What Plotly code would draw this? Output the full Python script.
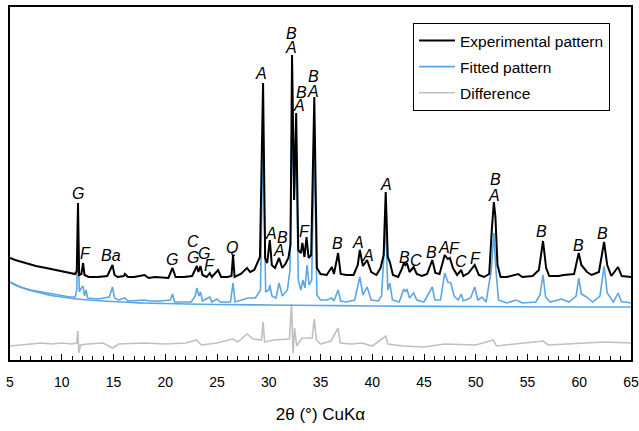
import plotly.graph_objects as go

# ---------------- data (intensity, arbitrary units) ----------------
exp_2theta = [5.0, 5.5, 6.5, 7.5, 8.5, 9.5, 10.5, 11.3, 11.45, 11.57, 11.68, 11.9, 12.06, 12.2, 12.6,
              13.5, 14.4, 14.75, 14.9, 15.1, 15.4, 16.0, 16.1, 16.4, 17.0, 18.0, 18.4, 19.0, 20.3,
              20.7, 21.0, 21.8, 22.6, 23.05, 23.2, 23.4, 23.6, 24.0, 24.3, 24.5, 25.1, 25.4, 26.0,
              26.4, 26.55, 26.7, 27.3, 27.9, 28.2, 28.6, 29.15, 29.45, 29.65, 29.85, 30.1, 30.3,
              30.6, 31.0, 31.3, 31.6, 31.9, 32.1, 32.25, 32.45, 32.65, 32.85, 33.1, 33.25, 33.45,
              33.65, 33.85, 34.1, 34.4, 34.65, 35.0, 35.6, 36.1, 36.3, 36.7, 36.95, 37.5, 38.2,
              38.6, 38.8, 39.1, 39.5, 39.9, 40.4, 40.8, 41.1, 41.3, 41.5, 41.7, 42.0, 42.5, 42.9,
              43.05, 43.2, 43.35, 43.6, 44.0, 44.3, 44.8, 45.3, 45.8, 46.1, 46.5, 47.0, 47.3, 47.5,
              47.8, 48.2, 48.6, 48.8, 49.3, 49.9, 50.3, 50.8, 51.3, 51.55, 51.75, 51.9, 52.1, 52.4,
              53.0, 54.1, 54.5, 55.5, 56.1, 56.5, 56.8, 57.1, 58.0, 58.5, 59.5, 59.95, 60.2, 60.75,
              61.2, 61.9, 62.4, 62.7, 63.1, 63.75, 64.1, 65.0]
exp_counts = [100, 98, 95, 92, 90, 88, 86, 84, 87, 155, 83, 84, 95, 83, 81,
              81, 82, 90, 93, 83, 81, 82, 84, 81, 81, 83, 80, 81, 80,
              90, 81, 81, 82, 92, 86, 92, 83, 81, 85, 81, 88, 81, 81,
              82, 103, 81, 84, 90, 86, 88, 101, 275, 100, 95, 118, 93,
              90, 100, 90, 94, 100, 113, 303, 158, 245, 108, 105, 115, 101,
              121, 100, 103, 261, 90, 84, 83, 91, 84, 105, 84, 83, 83,
              93, 108, 92, 98, 86, 83, 90, 103, 166, 101, 96, 83, 81, 90,
              95, 93, 95, 86, 91, 84, 82, 84, 98, 85, 84, 103, 99, 100,
              90, 83, 88, 82, 85, 93, 83, 81, 84, 128, 156, 141, 93, 81,
              81, 84, 81, 82, 88, 117, 90, 82, 82, 83, 84, 105, 93, 86,
              83, 86, 116, 93, 82, 91, 82, 81]

fit_2theta = [5.0, 6.0, 7.0, 8.0, 9.0, 10.0, 10.8, 11.3, 11.45, 11.57, 11.7, 11.9, 12.06, 12.2, 12.35,
              12.5, 13.5, 14.6, 14.9, 15.1, 15.5, 16.1, 16.4, 18.0, 18.5, 19.5, 20.5, 20.7, 20.9,
              22.5, 22.9, 23.05, 23.25, 23.4, 23.6, 24.3, 24.5, 25.0, 25.3, 26.3, 26.55, 26.75,
              27.3, 28.0, 28.7, 29.2, 29.45, 29.7, 30.0, 30.1, 30.3, 30.7, 31.0, 31.3, 31.8, 32.05,
              32.25, 32.45, 32.65, 32.85, 33.1, 33.3, 33.5, 33.7, 33.9, 34.15, 34.4, 34.65, 35.0,
              35.6, 36.1, 36.3, 36.7, 36.95, 37.5, 38.3, 38.8, 39.1, 39.5, 39.9, 40.6, 40.9, 41.3,
              41.5, 41.7, 41.95, 42.6, 43.05, 43.2, 43.35, 43.6, 44.0, 44.3, 45.0, 45.8, 46.05,
              46.6, 47.0, 47.3, 47.6, 47.9, 48.3, 48.6, 48.8, 49.5, 49.9, 50.2, 50.6, 51.0, 51.5,
              51.75, 51.95, 52.2, 53.0, 53.9, 54.5, 55.8, 56.2, 56.5, 56.75, 57.2, 58.3, 59.0,
              59.7, 59.95, 60.2, 60.7, 61.3, 62.0, 62.4, 62.7, 63.3, 63.75, 64.1, 64.5, 65.0]
fit_counts = [76, 71, 68, 66, 64, 62, 61, 61, 68, 121, 66, 70, 72, 62, 68,
              60, 59, 61, 71, 60, 58, 60, 57, 58, 57, 57, 58, 64, 56,
              56, 62, 70, 62, 66, 57, 61, 56, 59, 56, 56, 75, 56,
              58, 60, 60, 68, 228, 66, 68, 73, 62, 60, 75, 62, 68, 88,
              241, 158, 215, 78, 68, 78, 70, 93, 73, 78, 213, 63, 58,
              58, 60, 57, 68, 57, 56, 58, 81, 63, 71, 58, 57, 62, 135,
              68, 75, 58, 56, 69, 66, 69, 60, 65, 58, 56, 71, 58,
              58, 85, 76, 75, 62, 58, 64, 57, 60, 71, 58, 61, 56, 88,
              125, 88, 58, 55, 58, 55, 56, 63, 83, 61, 56, 59, 56,
              62, 80, 64, 61, 56, 62, 92, 65, 56, 65, 56, 56, 55]

bg_2theta = [5, 5.5, 6, 7, 8, 9, 10, 11, 12, 14, 16, 18, 20, 25, 30, 35, 40, 50, 60, 65]
bg_counts = [76, 73, 71, 67.5, 65, 62.5, 61, 59.5, 58.5, 57, 56, 55, 54.5, 53.5, 53, 52.5, 52, 51.5, 51, 51]

diff_2theta = [5.0, 6.0, 7.0, 8.0, 9.0, 10.0, 11.0, 11.45, 11.55, 11.65, 11.8, 12.5, 14.0, 14.9, 15.5,
               18.0, 20.0, 22.0, 23.0, 23.5, 25.0, 26.5, 27.0, 27.9, 28.5, 29.3, 29.45, 29.6, 30.5,
               31.5, 32.0, 32.2, 32.35, 32.5, 32.7, 33.2, 34.2, 34.4, 34.6, 35.0, 36.0, 36.7, 36.9,
               38.0, 39.0, 40.0, 41.3, 41.5, 43.0, 45.0, 47.0, 50.0, 51.7, 52.0, 54.0, 56.5, 57.0,
               60.0, 62.4, 65.0]
diff_counts = [12, 13, 14, 15, 14, 15, 14, 15, 27, 5, 13, 14, 15, 10, 14,
               15, 14, 15, 18, 13, 15, 19, 16, 24, 19, 18, 36, 16, 18,
               19, 19, 54, 5, 30, 12, 20, 20, 39, 18, 14, 17, 30, 15,
               14, 15, 12, 22, 14, 12, 11, 14, 13, 18, 12, 14, 17, 13,
               15, 16, 15]

# phase labels: text, 2theta position, height
label_text = ["G", "F", "Ba", "G", "C", "G", "G", "F", "Q", "A", "A", "B", "A", "B", "A", "B", "A",
              "F", "B", "A", "B", "A", "A", "A", "B", "C", "B", "A", "F", "C", "F", "B", "A",
              "B", "B", "B"]
label_2theta = [11.57, 12.25, 14.76, 20.65, 22.68, 22.68, 23.74, 24.32, 26.45, 29.25, 30.22, 31.28,
                31.0, 32.15, 32.15, 33.12, 32.92, 33.5, 34.37, 34.28, 36.69, 38.62, 39.59, 41.33,
                43.07, 44.23, 45.68, 46.93, 47.9, 48.57, 50.02, 51.86, 51.76, 56.4, 59.88, 62.29]
label_height = [165, 105, 103, 99, 117, 101, 105, 93, 111, 285, 125, 121, 108, 325, 311, 266, 253,
                127, 282, 267, 115, 116, 103, 174, 101, 98, 106, 111, 110, 97, 100, 179, 163,
                127, 113, 125]

x_ticks = [5, 10, 15, 20, 25, 30, 35, 40, 45, 50, 55, 60, 65]

BLACK = "#000000"
BLUE = "#5aa6e6"
GRAY = "#c0c0c0"
FONT = "Liberation Sans, Arial, Helvetica, sans-serif"

fig = go.Figure()
fig.add_trace(go.Scatter(x=diff_2theta, y=diff_counts, mode="lines", name="Difference",
                         line=dict(color=GRAY, width=1.6), legendgroup="c", legendrank=3))
fig.add_trace(go.Scatter(x=bg_2theta, y=bg_counts, mode="lines", name="Background",
                         line=dict(color=BLUE, width=1.6, shape="spline"), showlegend=False,
                         legendgroup="b"))
fig.add_trace(go.Scatter(x=fit_2theta, y=fit_counts, mode="lines", name="Fitted pattern",
                         line=dict(color=BLUE, width=1.6), legendgroup="b", legendrank=2))
fig.add_trace(go.Scatter(x=exp_2theta, y=exp_counts, mode="lines", name="Experimental pattern",
                         line=dict(color=BLACK, width=2), legendgroup="a", legendrank=1))

for t, xv, yv in zip(label_text, label_2theta, label_height):
    fig.add_annotation(x=xv, y=yv, xref="x", yref="y", text="<i>" + t + "</i>",
                       showarrow=False, font=dict(family=FONT, size=16, color=BLACK))

fig.update_layout(
    width=639, height=431,
    margin=dict(l=10, r=8, t=7, b=71, autoexpand=False),
    paper_bgcolor="white", plot_bgcolor="white",
    font=dict(family=FONT, color=BLACK),
    legend=dict(x=0.649, y=0.955, xanchor="left", yanchor="top",
                bordercolor=BLACK, borderwidth=1, bgcolor="white",
                font=dict(family=FONT, size=15.5, color=BLACK),
                tracegroupgap=3, traceorder="grouped", itemwidth=36),
    xaxis=dict(range=[5, 65], tickvals=x_ticks, ticks="inside", ticklen=6, tickwidth=1,
               tickcolor=BLACK, showline=True, mirror=True, linecolor=BLACK, linewidth=1.5,
               showgrid=False, zeroline=False, ticklabelstandoff=8, automargin=False,
               tickfont=dict(family=FONT, size=14, color=BLACK),
               minor=dict(dtick=1, ticks="inside", ticklen=4, tickcolor=BLACK, showgrid=False),
               title=dict(text="2θ (°) CuKα", font=dict(family=FONT, size=17, color=BLACK),
                          standoff=20)),
    yaxis=dict(range=[-2, 351], showticklabels=False, ticks="", showline=True, mirror=True,
               linecolor=BLACK, linewidth=1.5, showgrid=False, zeroline=False, automargin=False),
)

fig.write_html("out.html", post_script="document.body.style.margin='0';",
               config={"displayModeBar": False})
